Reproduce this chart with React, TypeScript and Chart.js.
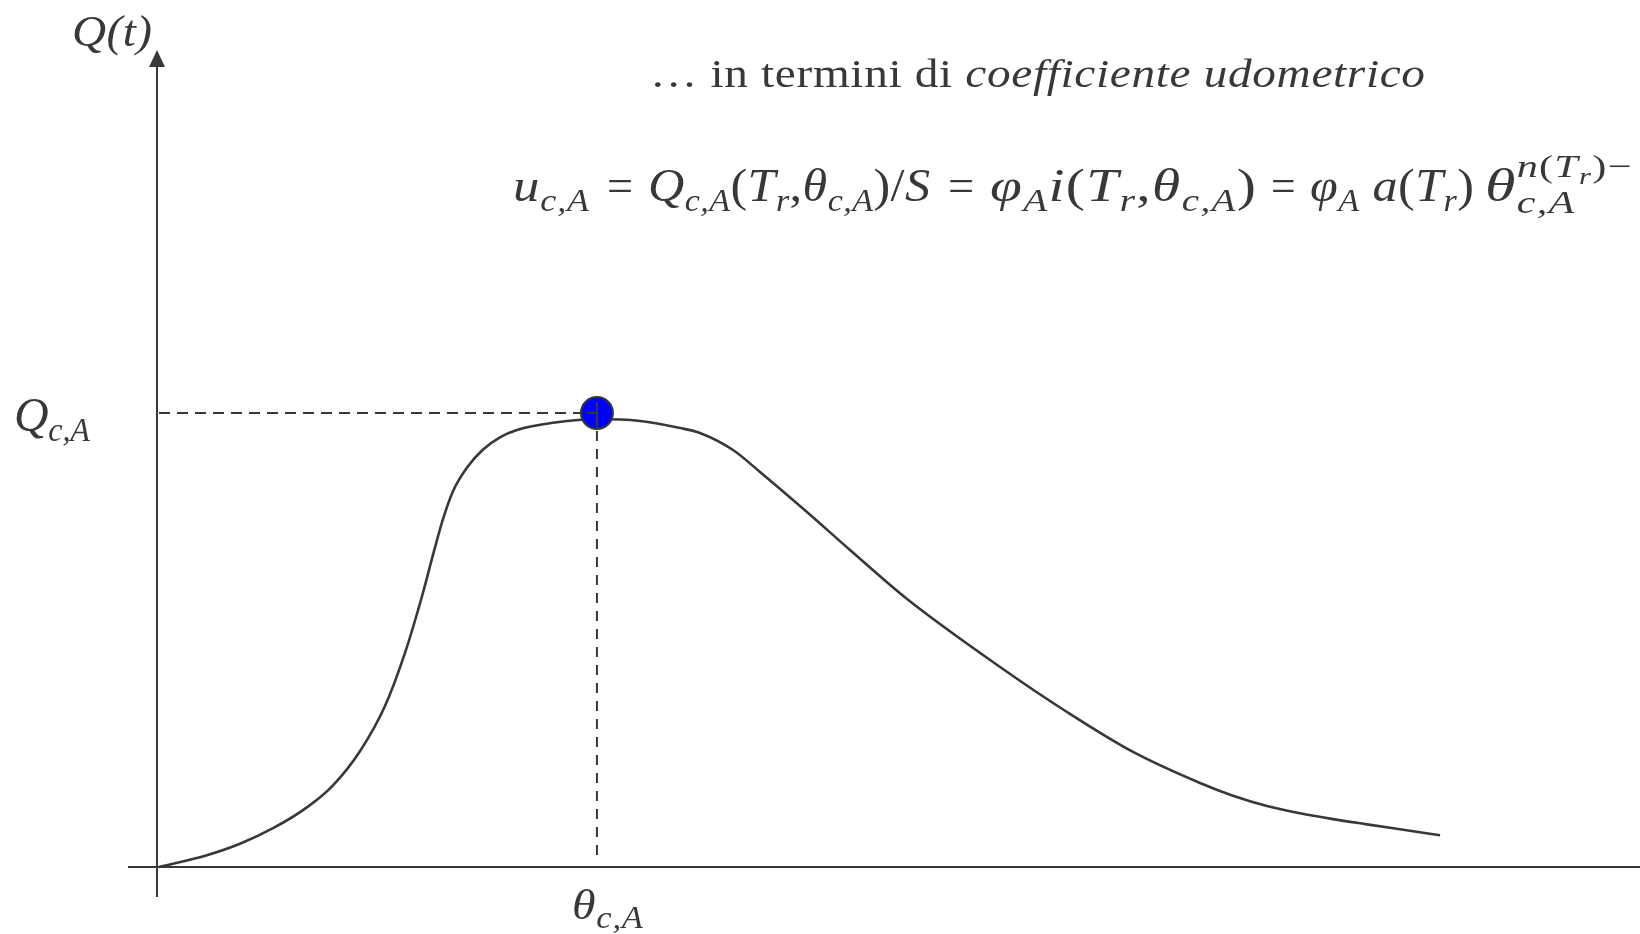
import { useEffect, useRef } from "react";
import { Chart, registerables } from "chart.js";

Chart.register(...registerables);

// Flood hydrograph Q(t), arbitrary units (time on x, discharge on y)
const timeValues = [
  0, 3.24, 5.47, 7.7, 9.99, 11.75, 13.58, 15.26, 16.61, 17.83, 18.5, 19.18,
  19.85, 20.8, 21.88, 23.02, 24.17, 26.74, 29.57, 32.48, 35.18, 36.53, 38.76,
  40.58, 43.75, 46.66, 50.51, 56.79, 61.31, 65.77, 70.29, 72.52, 74.81, 77.04,
  79.27, 81.57, 83.79, 86.5,
];
const dischargeValues = [
  0, 1.45, 2.85, 4.75, 7.3, 10.0, 14.2, 19.7, 26.2, 33.6, 38.2, 42.6, 46.0,
  48.9, 51.1, 52.6, 53.5, 54.4, 54.83, 54.59, 53.73, 53.12, 51.04, 48.35,
  43.45, 38.8, 32.8, 24.48, 18.97, 14.08, 10.28, 8.72, 7.46, 6.57, 5.86, 5.22,
  4.62, 3.89,
];

// Critical duration and peak discharge of basin A
const criticalTime = [29.57];
const criticalPeak = [55.57];

const axisRange = { xMax: 100, yMax: 100 };

const INK = "#383838";
const FAMILY = '"Liberation Serif", serif';

type Seg = {
  t: string;
  size: number;
  italic?: boolean;
  dy?: number;
  save?: boolean;
  back?: boolean;
};

// Lays out a run of text pieces. With a target width the run is widened:
// mostly by stretching the glyphs, the rest as space between characters.
function drawFit(
  ctx: CanvasRenderingContext2D,
  x: number,
  y: number,
  segs: Seg[],
  target?: number,
  stretchShare = 0.75,
) {
  ctx.textBaseline = "alphabetic";
  ctx.textAlign = "left";
  const font = (s: Seg) => `${s.italic ? "italic " : ""}${s.size}px ${FAMILY}`;
  let sx = 1;
  let extra = 0;
  if (target !== undefined) {
    let cx = 0;
    let saved = 0;
    let right = 0;
    let n = 0;
    for (const s of segs) {
      if (s.back) cx = saved;
      if (s.save) saved = cx;
      ctx.font = font(s);
      for (const ch of Array.from(s.t)) {
        cx += ctx.measureText(ch).width;
        n++;
      }
      right = Math.max(right, cx);
    }
    const ratio = target / right;
    sx = 1 + (ratio - 1) * stretchShare;
    extra = n > 1 ? (target / sx - right) / (n - 1) : 0;
  }
  ctx.save();
  ctx.translate(x, y);
  ctx.scale(sx, 1);
  let cx = 0;
  let saved = 0;
  for (const s of segs) {
    if (s.back) cx = saved;
    if (s.save) saved = cx;
    ctx.font = font(s);
    for (const ch of Array.from(s.t)) {
      ctx.fillText(ch, cx, s.dy || 0);
      cx += ctx.measureText(ch).width + extra;
    }
  }
  ctx.restore();
}

const F = 47;
const SUB = 32;
const SUB2 = 23;
const sub = (t: string): Seg => ({ t, size: SUB, italic: true, dy: 10 });
const it = (t: string): Seg => ({ t, size: F, italic: true });
const rm = (t: string): Seg => ({ t, size: F });

const formulaParts: { x: number; w?: number; segs: Seg[] }[] = [
  { x: 513, w: 76, segs: [it("u"), sub("c,A")] },
  { x: 607, w: 26, segs: [rm("=")] },
  {
    x: 648,
    w: 282,
    segs: [it("Q"), sub("c,A"), rm("("), it("T"), sub("r"), rm(","), it("θ"), sub("c,A"), rm(")/"), it("S")],
  },
  { x: 948, w: 26, segs: [rm("=")] },
  {
    x: 990,
    w: 266,
    segs: [it("φ"), sub("A"), it("i"), rm("("), it("T"), sub("r"), rm(","), it("θ"), sub("c,A"), rm(")")],
  },
  { x: 1271, w: 24, segs: [rm("=")] },
  { x: 1310, w: 164, segs: [it("φ"), sub("A"), rm(" "), it("a"), rm("("), it("T"), sub("r"), rm(")")] },
];

const formulaTail: Seg[] = [
  it("θ"),
  { t: "c,A", size: SUB, italic: true, dy: 12, save: true },
  { t: "n", size: SUB, italic: true, dy: -24, back: true },
  { t: "(", size: SUB, dy: -24 },
  { t: "T", size: SUB, italic: true, dy: -24 },
  { t: "r", size: SUB2, italic: true, dy: -17 },
  { t: ")", size: SUB, dy: -24 },
  { t: "−", size: SUB, dy: -24 },
];

const overlay = {
  id: "hydroOverlay",
  beforeDatasetsDraw(chart: any) {
    const ctx: CanvasRenderingContext2D = chart.ctx;
    const xs = chart.scales.x;
    const ys = chart.scales.y;
    const x0 = xs.getPixelForValue(0);
    const y0 = ys.getPixelForValue(0);
    const top = ys.getPixelForValue(axisRange.yMax);
    ctx.save();
    ctx.strokeStyle = INK;
    ctx.fillStyle = INK;
    ctx.lineWidth = 2;
    // time axis
    ctx.beginPath();
    ctx.moveTo(x0 - 31, y0);
    ctx.lineTo(chart.width, y0);
    ctx.stroke();
    // discharge axis with arrow head
    ctx.beginPath();
    ctx.moveTo(x0 - 2, y0 + 30);
    ctx.lineTo(x0 - 2, top + 14);
    ctx.stroke();
    ctx.beginPath();
    ctx.moveTo(x0 - 2, top);
    ctx.lineTo(x0 - 10, top + 17);
    ctx.lineTo(x0 + 6, top + 17);
    ctx.closePath();
    ctx.fill();

    // guide lines to the peak
    const px = xs.getPixelForValue(criticalTime[0]);
    const py = ys.getPixelForValue(criticalPeak[0]);
    ctx.setLineDash([11, 7]);
    ctx.beginPath();
    ctx.moveTo(x0, py);
    ctx.lineTo(px, py);
    ctx.stroke();
    ctx.setLineDash([10, 8]);
    ctx.beginPath();
    ctx.moveTo(px, py);
    ctx.lineTo(px, y0 - 8);
    ctx.stroke();
    ctx.restore();
  },
  afterDatasetsDraw(chart: any) {
    const ctx: CanvasRenderingContext2D = chart.ctx;
    const xs = chart.scales.x;
    const ys = chart.scales.y;
    const px = xs.getPixelForValue(criticalTime[0]);
    const py = ys.getPixelForValue(criticalPeak[0]);
    const y0 = ys.getPixelForValue(0);
    ctx.save();
    ctx.strokeStyle = INK;
    ctx.lineWidth = 2;
    ctx.beginPath();
    ctx.moveTo(px - 10, py);
    ctx.lineTo(px, py);
    ctx.moveTo(px, py - 11);
    ctx.lineTo(px, py + 15);
    ctx.stroke();

    ctx.fillStyle = INK;
    // axis titles and labels
    drawFit(ctx, 72, 46, [{ t: "Q(t)", size: 45, italic: true }], 80);
    drawFit(ctx, 14, py + 18, [
      { t: "Q", size: 49, italic: true },
      { t: "c,A", size: 33, italic: true, dy: 10 },
    ], 76);
    drawFit(ctx, px - 25, y0 + 52, [
      { t: "θ", size: 43, italic: true },
      { t: "c,A", size: 31, italic: true, dy: 9 },
    ], 71);

    drawFit(ctx, 650, 87, [
      { t: "… in termini di ", size: 41 },
      { t: "coefficiente udometrico", size: 41, italic: true },
    ], 775, 0.8);

    for (const part of formulaParts) {
      drawFit(ctx, part.x, 201, part.segs, part.w);
    }
    drawFit(ctx, 1485, 201, formulaTail, 150);
    ctx.restore();
  },
};

export default function App() {
  const ref = useRef<HTMLCanvasElement | null>(null);

  useEffect(() => {
    if (!ref.current) return;
    const chart = new Chart(ref.current, {
      type: "line",
      data: {
        datasets: [
          {
            label: "Q_c,A",
            data: criticalTime.map((t, i) => ({ x: t, y: criticalPeak[i] })),
            showLine: false,
            pointRadius: 16,
            pointBackgroundColor: "#0000ff",
            pointBorderColor: INK,
            pointBorderWidth: 2,
            order: 0,
            clip: false,
          },
          {
            label: "Q(t)",
            data: timeValues.map((t, i) => ({ x: t, y: dischargeValues[i] })),
            borderColor: INK,
            borderWidth: 2.6,
            pointRadius: 0,
            cubicInterpolationMode: "monotone",
            fill: false,
            order: 1,
            clip: false,
          },
        ],
      },
      options: {
        animation: false,
        responsive: false,
        events: [],
        layout: { autoPadding: false, padding: { left: 159, right: 0, top: 50, bottom: 67 } },
        scales: {
          x: { type: "linear", min: 0, max: axisRange.xMax, display: false },
          y: { type: "linear", min: 0, max: axisRange.yMax, display: false },
        },
        plugins: { legend: { display: false }, tooltip: { enabled: false } },
      },
      plugins: [overlay],
    });
    return () => chart.destroy();
  }, []);

  return (
    <div style={{ position: "fixed", left: 0, top: 0, width: 1640, height: 934, background: "#fff" }}>
      <canvas ref={ref} width={1640} height={934} />
    </div>
  );
}
